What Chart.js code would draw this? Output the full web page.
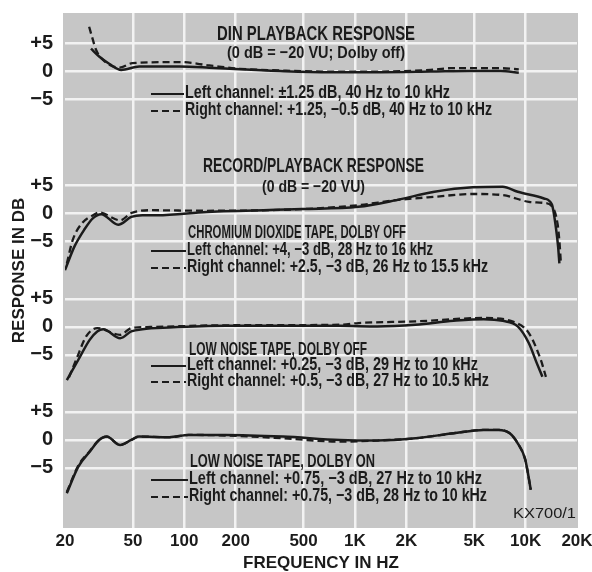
<!DOCTYPE html>
<html><head><meta charset="utf-8">
<script src="https://cdn.jsdelivr.net/npm/chart.js@4"></script>
<style>html,body{margin:0;padding:0;background:#fff}#c{display:block}</style>
</head><body>
<canvas id="c" width="592" height="572"></canvas>
<script>
// ---------- DATA (frequency in Hz, response in dB) ----------
const xTickValues = [20, 50, 100, 200, 500, 1000, 2000, 5000, 10000, 20000];
const xTickLabels = ['20', '50', '100', '200', '500', '1K', '2K', '5K', '10K', '20K'];
const yTickValues = [5, 0, -5];
const yTickLabels = ['+5', '0', '\u22125'];

// DIN playback response
const dinLeftHz  = [28.4, 31.7, 36.3, 42.7, 54.5, 94, 140, 211, 363, 714, 1406, 2770, 4750, 7140, 9120];
const dinLeftDb  = [4.0, 2.6, 1.3, 0.2, 0.8, 0.8, 0.6, 0.3, 0.0, -0.2, -0.2, -0.1, 0.0, 0.0, -0.3];
const dinRightHz = [27.7, 28.8, 30.4, 33.9, 41.6, 49.6, 94, 140, 211, 363, 714, 1406, 2770, 3630, 7140, 9120];
const dinRightDb = [7.9, 6.1, 3.8, 1.8, 0.6, 1.4, 1.6, 1.0, 0.4, 0.1, -0.1, -0.1, 0.2, 0.5, 0.5, 0.3];

// Chromium dioxide tape, Dolby off
const cro2LeftHz  = [20, 22.7, 25.9, 29.2, 32.6, 41, 48.9, 56.8, 69.5, 136, 489, 1044, 1748, 2924, 4890, 7340, 8990, 12800, 14260, 15030, 15500, 15770];
const cro2LeftDb  = [-10.2, -6, -3, -0.9, -0.2, -2.1, -0.7, -0.4, -0.4, 0.2, 0.7, 1.1, 2.3, 3.8, 4.6, 4.7, 3.8, 2.6, 1.5, -2.5, -6, -9];
const cro2RightHz = [20.5, 22.2, 25.2, 29.2, 31.7, 42.1, 48.9, 63.2, 136, 489, 1044, 1748, 2924, 4890, 7340, 10450, 12800, 14260, 15400, 15770, 16100];
const cro2RightDb = [-9, -4.8, -1.8, -0.4, 0.1, -1.3, 0, 0.5, 0.4, 0.7, 1.4, 2.3, 2.9, 3.4, 3.2, 2.0, 1.8, 1.2, -2, -5, -9];

// Low noise tape, Dolby off
const lnOffLeftHz  = [20.5, 23.9, 27.9, 30.9, 33.5, 42.1, 48.9, 56.8, 81.8, 175, 818, 1350, 2260, 3780, 5680, 7340, 8990, 10450, 11640, 12540];
const lnOffLeftDb  = [-9.5, -5.9, -2.3, -0.8, -0.4, -2.0, -0.8, -0.4, -0.1, 0.2, 0.2, 0.1, 0.4, 1.1, 1.4, 1.1, 0.1, -2.9, -6.5, -8.9];
const lnOffRightHz = [21.1, 23.5, 26.6, 30.9, 42.1, 48.9, 63.2, 175, 818, 1052, 2260, 5680, 8510, 10450, 12280, 13150];
const lnOffRightDb = [-9, -5.5, -1.7, -0.2, -1.4, -0.2, 0, 0.3, 0.4, 0.7, 1.0, 1.6, 0.9, -1.1, -5.9, -8.9];

// Low noise tape, Dolby on
const lnOnLeftHz  = [20.5, 23.9, 27.9, 31.7, 35.1, 42.1, 48.9, 54.2, 81.8, 106, 175, 378, 818, 1350, 2260, 3780, 5680, 6950, 8070, 8990, 9950, 10720];
const lnOnLeftDb  = [-9.5, -4.8, -2.1, 0, 0.6, -0.9, 0, 0.6, 0.5, 0.9, 0.9, 0.6, 0, -0.1, 0.3, 1.2, 1.8, 1.8, 1.2, -0.6, -3.5, -8.9];
const lnOnRightHz = [20.5, 23.9, 27.9, 31.7, 35.1, 42.1, 48.9, 54.2, 81.8, 106, 175, 378, 818, 1350, 2260, 3780, 5680, 6950, 8070, 8990, 9950, 10720];
const lnOnRightDb = [-9.3, -4.6, -2.0, 0, 0.6, -0.9, 0, 0.6, 0.5, 0.9, 0.8, 0.3, -0.3, -0.1, 0.3, 1.2, 1.8, 1.8, 1.2, -0.6, -3.5, -8.9];

// ---------- LAYOUT ----------
const panelOffsets = [0, -25.36, -45.71, -65.89]; // vertical shift of each stacked panel (dB units)
const Y_MAX = 10.36, Y_MIN = -81.61;
const FONT = "'Liberation Sans Narrow','Liberation Sans',Arial,sans-serif";
const INK = '#1b1b1b';

function pts(hz, db, off) { return hz.map((f, i) => ({ x: f, y: db[i] + off })); }
function ds(hz, db, panel, dashed) {
  return {
    data: pts(hz, db, panelOffsets[panel]),
    borderColor: INK, borderWidth: dashed ? 2.3 : 2.5,
    borderDash: dashed ? [7, 4] : [],
    pointRadius: 0, fill: false, cubicInterpolationMode: 'monotone'
  };
}
const datasets = [
  ds(dinRightHz, dinRightDb, 0, true), ds(dinLeftHz, dinLeftDb, 0, false),
  ds(cro2RightHz, cro2RightDb, 1, true), ds(cro2LeftHz, cro2LeftDb, 1, false),
  ds(lnOffRightHz, lnOffRightDb, 2, true), ds(lnOffLeftHz, lnOffLeftDb, 2, false),
  ds(lnOnRightHz, lnOnRightDb, 3, true), ds(lnOnLeftHz, lnOnLeftDb, 3, false)
];

// annotation text: left edge, baseline, right edge, font size
const notes = [
  { t: 'DIN PLAYBACK RESPONSE', x: 217, y: 40, r: 415, s: 21 },
  { t: '(0 dB = \u221220 VU; Dolby off)', x: 227, y: 58, r: 405, s: 17 },
  { t: 'Left channel: \u00b11.25 dB, 40 Hz to 10 kHz', x: 185, y: 98, r: 450, s: 18, leg: 'solid' },
  { t: 'Right channel: +1.25, \u22120.5 dB, 40 Hz to 10 kHz', x: 185, y: 115, r: 492, s: 18, leg: 'dash' },
  { t: 'RECORD/PLAYBACK RESPONSE', x: 203, y: 172, r: 424, s: 21 },
  { t: '(0 dB = \u221220 VU)', x: 262, y: 192, r: 365, s: 17 },
  { t: 'CHROMIUM DIOXIDE TAPE, DOLBY OFF', x: 188, y: 238, r: 406, s: 18 },
  { t: 'Left channel: +4, \u22123 dB, 28 Hz to 16 kHz', x: 187, y: 255, r: 433, s: 18, leg: 'solid' },
  { t: 'Right channel: +2.5, \u22123 dB, 26 Hz to 15.5 kHz', x: 187, y: 272, r: 488, s: 18, leg: 'dash' },
  { t: 'LOW NOISE TAPE, DOLBY OFF', x: 189, y: 355, r: 367, s: 18 },
  { t: 'Left channel: +0.25, \u22123 dB, 29 Hz to 10 kHz', x: 187, y: 370, r: 478, s: 18, leg: 'solid' },
  { t: 'Right channel: +0.5, \u22123 dB, 27 Hz to 10.5 kHz', x: 187, y: 386, r: 489, s: 18, leg: 'dash' },
  { t: 'LOW NOISE TAPE, DOLBY ON', x: 190, y: 467, r: 375, s: 18 },
  { t: 'Left channel: +0.75, \u22123 dB, 27 Hz to 10 kHz', x: 189, y: 484, r: 482, s: 18, leg: 'solid' },
  { t: 'Right channel: +0.75, \u22123 dB, 28 Hz to 10 kHz', x: 189, y: 501, r: 487, s: 18, leg: 'dash' },
  { t: 'KX700/1', x: 513, y: 518, r: 576, s: 14, w: 'normal' }
];

const bgPlugin = {
  id: 'bg',
  beforeDraw(chart) {
    const { ctx, chartArea: a } = chart;
    ctx.save();
    ctx.fillStyle = '#c6c6c6';
    ctx.fillRect(a.left - 2, a.top, a.right - a.left + 3, a.bottom - a.top);
    ctx.restore();
  }
};
const notesPlugin = {
  id: 'notes',
  afterDraw(chart) {
    const ctx = chart.ctx;
    ctx.save();
    ctx.fillStyle = INK; ctx.strokeStyle = INK;
    notes.forEach(n => {
      ctx.font = `${n.w || 'bold'} ${n.s}px ${FONT}`;
      const m = ctx.measureText(n.t).width;
      ctx.save();
      ctx.translate(n.x, n.y);
      ctx.scale((n.r - n.x) / m, 1);
      ctx.textAlign = 'left'; ctx.textBaseline = 'alphabetic';
      ctx.fillText(n.t, 0, 0);
      ctx.restore();
      if (n.leg) {
        ctx.beginPath();
        ctx.lineWidth = 2;
        ctx.setLineDash(n.leg === 'dash' ? [7, 4] : []);
        ctx.moveTo(151, n.y - 4); ctx.lineTo(n.x - 1, n.y - 4);
        ctx.stroke();
        ctx.setLineDash([]);
      }
    });
    ctx.restore();
  }
};

function yLabel(v) {
  for (const o of panelOffsets) for (let i = 0; i < yTickValues.length; i++)
    if (Math.abs(v - (yTickValues[i] + o)) < 0.01) return yTickLabels[i];
  return '';
}

new Chart(document.getElementById('c'), {
  type: 'line',
  data: { datasets },
  options: {
    responsive: false, animation: false, devicePixelRatio: 1,
    layout: { padding: { top: 13, right: 15, left: 0, bottom: 0 } },
    plugins: { legend: { display: false }, tooltip: { enabled: false } },
    scales: {
      x: {
        type: 'logarithmic', min: 20, max: 20000,
        afterBuildTicks: s => { s.ticks = xTickValues.map(v => ({ value: v })); },
        afterFit: s => { s.height = 44; s.paddingLeft = 0; s.paddingRight = 0; },
        ticks: {
          autoSkip: false, maxRotation: 0, padding: 5, color: INK,
          font: { family: FONT, size: 17, weight: 'bold', lineHeight: 1 },
          callback: (v) => { const i = xTickValues.indexOf(v); return i >= 0 ? xTickLabels[i] : ''; }
        },
        grid: {
          drawTicks: false, lineWidth: 2.5,
          color: c => (c.tick && (c.tick.value === 20 || c.tick.value === 20000)) ? 'rgba(0,0,0,0)' : '#f2f2f2'
        },
        border: { display: false },
        title: { display: true, text: 'FREQUENCY IN HZ', color: INK, padding: 0,
          font: { family: FONT, size: 17, weight: 'bold', lineHeight: 1 } }
      },
      y: {
        type: 'linear', min: Y_MIN, max: Y_MAX,
        afterBuildTicks: s => {
          const t = [];
          panelOffsets.forEach(o => yTickValues.forEach(v => t.push({ value: v + o })));
          s.ticks = t;
        },
        afterFit: s => { s.width = 65; s.paddingTop = 0; s.paddingBottom = 0; },
        ticks: {
          padding: 12, color: INK,
          font: { family: FONT, size: 20, weight: 'bold', lineHeight: 1 },
          callback: v => yLabel(v)
        },
        grid: { drawTicks: false, lineWidth: 2.5, color: '#f2f2f2' },
        border: { display: false },
        title: { display: true, text: 'RESPONSE IN DB', color: INK, padding: { top: 9, bottom: 0 },
          font: { family: FONT, size: 17, weight: 'bold', lineHeight: 1.2 } }
      }
    }
  },
  plugins: [bgPlugin, notesPlugin]
});
</script>
</body></html>
